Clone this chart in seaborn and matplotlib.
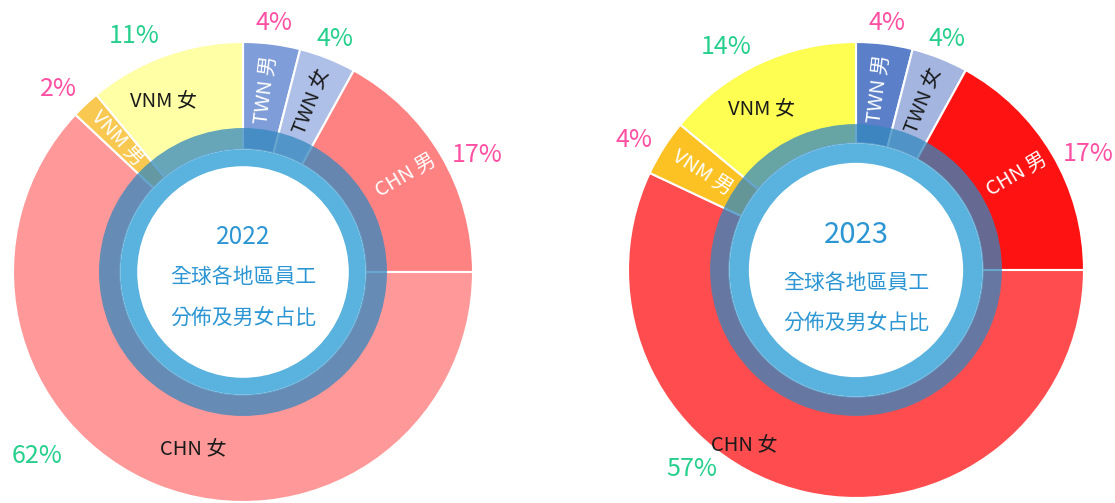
import matplotlib
matplotlib.use('Agg')
import matplotlib.pyplot as plt
import numpy as np
import seaborn as sns

# share of employees by site and sex, in percent
groups = ['TWN 男', 'TWN 女', 'CHN 男', 'CHN 女', 'VNM 男', 'VNM 女']
share_2022 = [4, 4, 17, 62, 2, 11]
share_2023 = [4, 4, 17, 57, 4, 14]
centre_lines = ['全球各地區員工', '分佈及男女占比']

colors_2022 = ['#7f9dd8', '#aec0e8', '#ff8282', '#ff9898', '#f8c850', '#ffffa6']
colors_2023 = ['#5b7fc9', '#a4b5e0', '#ff1212', '#ff4c4e', '#fcc224', '#fdfd52']

sns.set_theme(style='white')
plt.rcParams['font.family'] = ['Noto Sans CJK TC', 'DejaVu Sans']

W, H = 1115, 503
fig = plt.figure(figsize=(W / 100, H / 100), dpi=100)
fig.patch.set_facecolor('white')

PINK = '#ff4fa3'
GREEN = '#25cf8c'
TITLE_BLUE = '#2b96d3'
LIM = 1.35
radial = {'TWN 男', 'TWN 女', 'CHN 男', 'VNM 男'}

# label placement: (angle shift in degrees, radius as fraction of the outer radius)
inner_pos = {'CHN 男': (0, 0.82), 'VNM 女': (5, 0.82)}
pct_pos = {'TWN 男': (0, 1.09), 'TWN 女': (0, 1.09), 'CHN 男': (-4, 1.14),
           'VNM 男': (2, 1.13), 'VNM 女': (5, 1.13)}


def norm_rot(a):
    a = (a + 180) % 360 - 180
    if a > 90:
        a -= 180
    if a < -90:
        a += 180
    return a


def donut(cx, cy, R, shares, colors, year, rings, year_size, text_y, big_slice):
    S = LIM * R
    ax = fig.add_axes([(cx - S) / W, (H - cy - S) / H, 2 * S / W, 2 * S / H])
    light_r, dark_r, white_r = rings

    wedges, _ = ax.pie(shares, colors=colors, radius=1, startangle=90, counterclock=False,
                       wedgeprops=dict(width=1 - light_r, edgecolor='white', linewidth=1.5))
    # translucent dark ring over the segments, then the solid light ring
    ax.pie([1], colors=['#3388bf'], radius=dark_r,
           wedgeprops=dict(width=dark_r - light_r, alpha=0.75, linewidth=0))
    ax.pie([1], colors=['#5ab2de'], radius=light_r,
           wedgeprops=dict(width=light_r - white_r, linewidth=0))

    for w, name, share in zip(wedges, groups, shares):
        mid = (w.theta1 + w.theta2) / 2
        if name == 'CHN 女':
            in_shift, in_r, pct_shift, pct_r = big_slice
        else:
            in_shift, in_r = inner_pos.get(name, (0, 0.8))
            pct_shift, pct_r = pct_pos.get(name, (0, 1.12))

        a = np.deg2rad(mid + in_shift)
        male = name.endswith('男')
        rot = norm_rot(mid) if name in radial else 0
        ax.text(in_r * np.cos(a), in_r * np.sin(a), name, ha='center', va='center',
                rotation=rot, rotation_mode='anchor', fontsize=14.5,
                color='white' if male else '#1a1a1a')

        a = np.deg2rad(mid + pct_shift)
        ax.text(pct_r * np.cos(a), pct_r * np.sin(a), f'{share}%', ha='center', va='center',
                fontsize=18, color=PINK if male else GREEN)

    ax.text(0, text_y[0], year, ha='center', va='center', fontsize=year_size, color=TITLE_BLUE)
    for line, y in zip(centre_lines, text_y[1:]):
        ax.text(0, y, line, ha='center', va='center', fontsize=15, color=TITLE_BLUE)

    ax.set_xlim(-LIM, LIM)
    ax.set_ylim(-LIM, LIM)
    ax.set_axis_off()


donut(243, 272, 230, share_2022, colors_2022, '2022', (0.533, 0.626, 0.46), 17.5,
      (0.152, -0.022, -0.2), (6, 0.80, -26.6, 1.20))
donut(856, 270, 228, share_2023, colors_2023, '2023', (0.555, 0.64, 0.47), 21,
      (0.154, -0.057, -0.232), (-20, 0.91, -27, 1.13))

fig.savefig('out.png', dpi=100, facecolor='white')
